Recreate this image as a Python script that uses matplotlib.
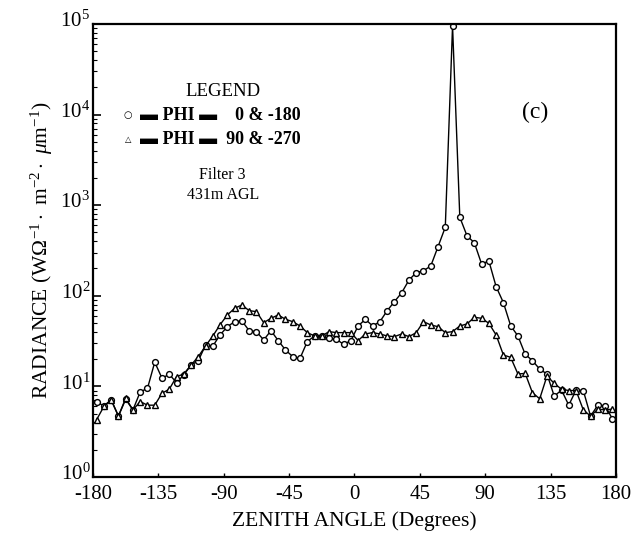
import numpy as np
import matplotlib
matplotlib.use("Agg")
import matplotlib.pyplot as plt
import matplotlib.transforms as mtrans
from matplotlib.ticker import LogLocator, NullFormatter

plt.rcParams['font.family'] = ['Liberation Serif', 'DejaVu Serif']
plt.rcParams['mathtext.fontset'] = 'custom'
plt.rcParams['mathtext.rm'] = 'Liberation Serif'
plt.rcParams['mathtext.it'] = 'Liberation Serif:italic'

# zenith angle of each sample (degrees), 5 degree steps
angle = np.arange(-177.5, 180, 5.0)

# PHI = 0 & -180 (circles)
rad_phi0 = [6.7, 6.1, 7.1, 4.7, 7.2, 5.5, 8.7, 9.5, 18.5, 12.3, 13.6, 11.0,
            13.4, 17.2, 19.2, 28.6, 27.9, 37.0, 45.6, 51.8, 52.7, 41.2, 40.2, 32.5,
            41.2, 32.0, 25.2, 21.3, 20.4, 31.2, 36.0, 36.0, 34.0, 33.1, 29.1, 32.0,
            46.4, 55.0, 46.4, 51.8, 68.5, 86.1, 108, 149, 180, 189, 213, 348,
            570, 95000, 735, 457, 385, 224, 242, 126, 84, 46.7, 36.0, 22.6,
            19.2, 15.5, 13.7, 7.8, 9.1, 6.2, 9.1, 9.0, 4.7, 6.2, 6.1, 4.4]

# PHI = 90 & -270 (triangles)
rad_phi90 = [4.3, 6.0, 7.1, 4.7, 7.4, 5.5, 6.8, 6.2, 6.2, 8.4, 9.3, 12.8,
             13.7, 17.2, 21.3, 28.0, 36.0, 48.0, 61.4, 72.8, 79.1, 68.5, 66.8, 50.5,
             56.4, 61.4, 55.0, 51.8, 46.4, 39.2, 36.0, 36.0, 40.2, 39.2, 39.2, 39.2,
             32.0, 37.9, 39.2, 37.9, 36.0, 35.4, 37.9, 35.4, 39.2, 51.8, 47.6, 45.6,
             39.2, 40.2, 46.4, 48.9, 57.9, 56.4, 49.7, 36.9, 22.2, 20.9, 13.7, 13.9,
             8.5, 7.3, 13.0, 10.8, 9.3, 9.0, 9.0, 5.5, 4.7, 5.6, 5.5, 5.6]

xticks = [-180, -135, -90, -45, 0, 45, 90, 135, 180]

fig = plt.figure(figsize=(6.37, 5.40), dpi=100)
ax = fig.add_axes([0.146, 0.1167, 0.821, 0.839])

ax.plot(angle, rad_phi0, '-o', color='black', lw=1.0, ms=4.2,
        mfc='white', mec='black', mew=1.0)
ax.plot(angle, rad_phi90, '-^', color='black', lw=1.0, ms=4.2,
        mfc='white', mec='black', mew=1.0)

ax.set_yscale('log')
ax.set_ylim(1, 1e5)
ax.set_xlim(-180, 180)
ax.set_xticks(xticks)
ax.set_xticklabels([str(t) for t in xticks])
ax.yaxis.set_major_locator(LogLocator(base=10, numticks=10))
ax.yaxis.set_minor_locator(LogLocator(base=10, subs=np.arange(2, 10), numticks=10))
ax.yaxis.set_minor_formatter(NullFormatter())

for s in ax.spines.values():
    s.set_linewidth(1.6)

ax.tick_params(axis='y', which='major', direction='in', length=6, width=1.2,
               labelsize=15, pad=2)
ax.tick_params(axis='y', which='minor', direction='in', length=3, width=0.8)
ax.tick_params(axis='x', which='major', direction='in', length=3, width=1.0,
               labelsize=15, pad=6)

# y tick labels sit slightly above their ticks in the original
shift = mtrans.ScaledTranslation(0, 5 / 100, fig.dpi_scale_trans)
for lab in ax.get_yticklabels():
    lab.set_transform(lab.get_transform() + shift)

ax.set_xlabel('ZENITH ANGLE (Degrees)', fontsize=15.5, labelpad=5)
ax.set_ylabel(r'RADIANCE (W$\Omega^{-1}\cdot$ m$^{-2}\cdot$ $\mathit{\mu}$m$^{-1}$)',
              fontsize=15.5, labelpad=4)

# hand-drawn style legend block
tkw = dict(transform=ax.transAxes, va='center')
ax.text(0.248, 0.851, 'LEGEND', fontsize=13.5, ha='center', **tkw)
ax.text(0.067, 0.798, '\u25cb', fontsize=7, family=['DejaVu Sans'], ha='center', **tkw)
ax.text(0.067, 0.745, '\u25b3', fontsize=6, family=['DejaVu Sans'], ha='center', **tkw)
ax.text(0.09, 0.798, '\u25ac PHI \u25ac    0 & -180', fontsize=13, fontweight='bold',
        family=['Liberation Serif', 'DejaVu Sans'], ha='left', **tkw)
ax.text(0.09, 0.745, '\u25ac PHI \u25ac  90 & -270', fontsize=13, fontweight='bold',
        family=['Liberation Serif', 'DejaVu Sans'], ha='left', **tkw)
ax.text(0.248, 0.667, 'Filter 3', fontsize=11.5, ha='center', **tkw)
ax.text(0.248, 0.623, '431m AGL', fontsize=11.5, ha='center', **tkw)
ax.text(0.845, 0.805, '(c)', fontsize=17, ha='center', **tkw)

fig.savefig('out.png', dpi=100)
